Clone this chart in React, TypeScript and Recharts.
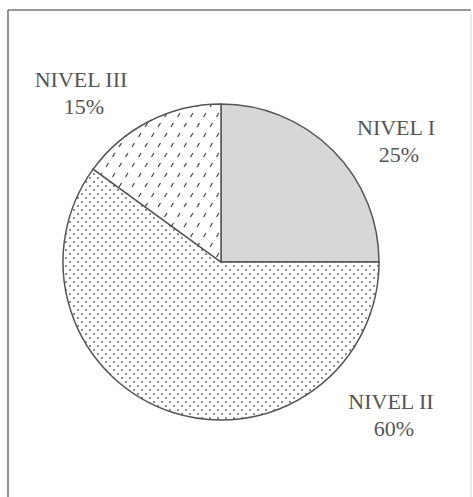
import { PieChart, Pie, Cell } from "recharts";

const LEVELS = ["NIVEL I", "NIVEL II", "NIVEL III"];
const SHARES = [25, 60, 15];

const data = LEVELS.map((label, i) => ({ label, value: SHARES[i] }));

const FILLS = ["#d7d7d7", "url(#dots)", "url(#dashes)"];
const INK = "#555";
const FONT = "'Liberation Serif', 'DejaVu Serif', serif";

// label anchors relative to the pie centre (label centre x, first baseline y)
const LABEL_AT: Record<string, [number, number]> = {
  "NIVEL I": [175, -127],
  "NIVEL II": [170, 147],
  "NIVEL III": [-140, -175],
};

function renderLabel(props: any) {
  const { cx, cy, index } = props;
  const d = data[index];
  const [dx, dy] = LABEL_AT[d.label];
  return (
    <text x={cx + dx} y={cy + dy} textAnchor="middle" fill={INK}
      fontFamily={FONT} fontSize={22}>
      <tspan x={cx + dx}>{d.label}</tspan>
      <tspan x={cx + dx + 3} dy={27}>{d.value}%</tspan>
    </text>
  );
}

export default function App() {
  return (
    <div style={{ position: "absolute", left: 0, top: 0, width: 473, height: 497, background: "#fff" }}>
      <svg width={473} height={497} style={{ position: "absolute", left: 0, top: 0 }}>
        <line x1={8} y1={10} x2={471} y2={10} stroke="#777" strokeWidth={1.6} />
        <line x1={8} y1={10} x2={8} y2={497} stroke="#777" strokeWidth={1.6} />
        <line x1={471} y1={10} x2={471} y2={497} stroke="#ddd" strokeWidth={1} />
      </svg>
      <PieChart width={473} height={497} margin={{ top: 0, right: 0, bottom: 0, left: 0 }}
        style={{ position: "absolute", left: 0, top: 0 }}>
        <defs>
          <pattern id="dots" width={8} height={8} patternUnits="userSpaceOnUse">
            <rect width={8} height={8} fill="#fff" />
            <circle cx={2} cy={2} r={1} fill="#6a6a6a" />
            <circle cx={6} cy={6} r={1} fill="#6a6a6a" />
          </pattern>
          <pattern id="dashes" width={13} height={20} patternUnits="userSpaceOnUse">
            <rect width={13} height={20} fill="#fff" />
            <line x1={2} y1={7} x2={4.5} y2={3} stroke="#444" strokeWidth={1.2} />
            <line x1={8.5} y1={17} x2={11} y2={13} stroke="#444" strokeWidth={1.2} />
          </pattern>
        </defs>
        <Pie data={data} dataKey="value" nameKey="label" cx={221} cy={262}
          outerRadius={158} startAngle={90} endAngle={-270}
          stroke={INK} strokeWidth={1.5} label={renderLabel} labelLine={false}
          isAnimationActive={false}>
          {data.map((d, i) => (
            <Cell key={d.label} fill={FILLS[i]} />
          ))}
        </Pie>
      </PieChart>
    </div>
  );
}
